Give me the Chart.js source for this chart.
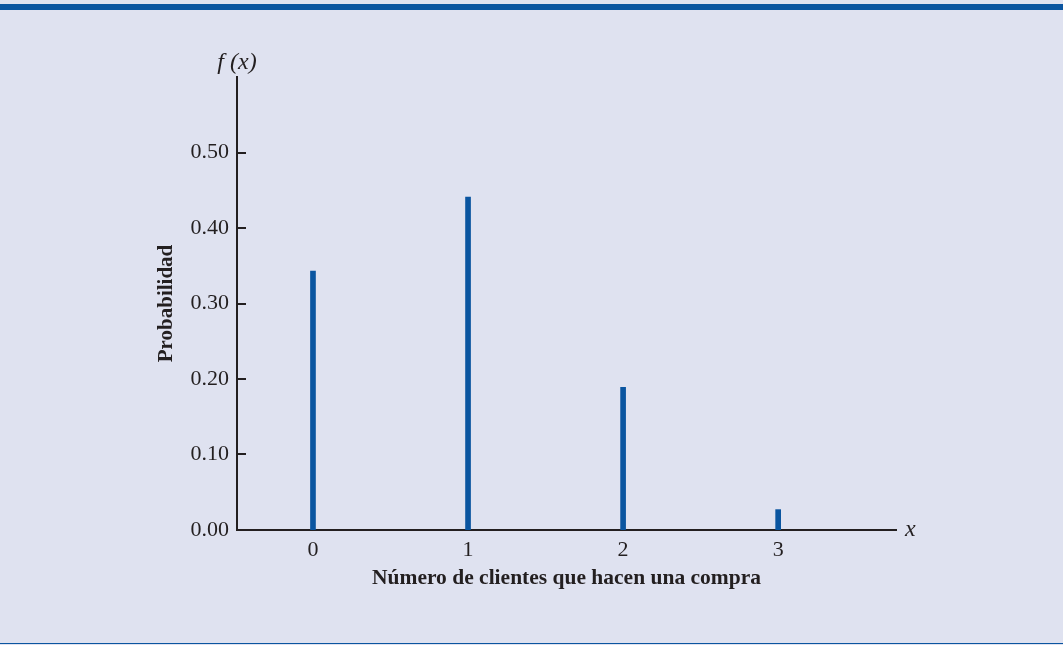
<!DOCTYPE html>
<html>
<head>
<meta charset="utf-8">
<script src="https://cdn.jsdelivr.net/npm/chart.js@4"></script>
<style>
    html, body { margin: 0; padding: 0; background: #dfe2f0; }
    #wrap { position: relative; width: 1063px; height: 645px; overflow: hidden; background: #dfe2f0; }
    #topband { position: absolute; left: 0; top: 4px; width: 1063px; height: 6px; background: #0a55a0; }
    #bottomline { position: absolute; left: 0; top: 643px; width: 1063px; height: 1px; background: #0a55a0; }
    canvas { position: absolute; left: 0; top: 0; }
</style>
</head>
<body>
<div id="wrap">
    <div id="topband"></div>
    <canvas id="chart" width="1063" height="645"></canvas>
    <div id="bottomline"></div>
</div>
<script>
// Binomial probabilities shown in the figure
const xValues = [0, 1, 2, 3];
const probabilities = [0.343, 0.441, 0.189, 0.027];
const yTickValues = [0.0, 0.1, 0.2, 0.3, 0.4, 0.5];

const AXIS_COLOR = '#231f20';
const BAR_COLOR = '#0a55a0';
const SERIF = '"Liberation Serif", "Times New Roman", serif';

// Inward tick marks plus the f(x) and x axis names
const extrasPlugin = {
    id: 'extras',
    afterDraw(chart) {
        const ctx = chart.ctx;
        const area = chart.chartArea;
        const yScale = chart.scales.y;

        ctx.save();
        ctx.strokeStyle = AXIS_COLOR;
        ctx.lineWidth = 2;
        yTickValues.forEach(v => {
            if (v === 0) return;
            const py = Math.round(yScale.getPixelForValue(v));
            ctx.beginPath();
            ctx.moveTo(area.left, py);
            ctx.lineTo(area.left + 9, py);
            ctx.stroke();
        });

        ctx.fillStyle = AXIS_COLOR;
        ctx.font = 'italic 24px ' + SERIF;
        ctx.textBaseline = 'middle';
        ctx.textAlign = 'center';
        ctx.fillText('f (x)', area.left, area.top - 14);
        ctx.textAlign = 'left';
        ctx.fillText('x', area.right + 9, yScale.getPixelForValue(0));
        ctx.restore();
    }
};

const ctx = document.getElementById('chart').getContext('2d');

new Chart(ctx, {
    type: 'bar',
    data: {
        datasets: [{
            data: xValues.map((x, i) => ({ x: x, y: probabilities[i] })),
            backgroundColor: BAR_COLOR,
            barThickness: 5,
            borderWidth: 0
        }]
    },
    options: {
        responsive: false,
        animation: false,
        events: [],
        layout: {
            padding: { left: 0, top: 77, right: 167, bottom: 0 }
        },
        plugins: {
            legend: { display: false },
            tooltip: { enabled: false }
        },
        scales: {
            x: {
                type: 'linear',
                offset: false,
                bounds: 'data',
                min: -0.49,
                max: 3.76,
                afterFit: scale => { scale.height = 115; },
                afterBuildTicks: scale => {
                    scale.ticks = xValues.map(v => ({ value: v }));
                },
                grid: { display: false, drawTicks: false },
                border: { display: true, color: AXIS_COLOR, width: 2 },
                ticks: {
                    padding: 7,
                    color: AXIS_COLOR,
                    font: { family: SERIF, size: 22 },
                    callback: v => String(v)
                },
                title: {
                    display: true,
                    text: 'Número de clientes que hacen una compra',
                    color: AXIS_COLOR,
                    font: { family: SERIF, size: 21.5, weight: 'bold' },
                    padding: { top: 0, bottom: 54 }
                }
            },
            y: {
                min: 0,
                max: 0.6,
                afterFit: scale => { scale.width = 237; },
                afterBuildTicks: scale => {
                    scale.ticks = yTickValues.map(v => ({ value: v }));
                },
                grid: { display: false, drawTicks: false },
                border: { display: true, color: AXIS_COLOR, width: 2 },
                ticks: {
                    padding: 8,
                    color: AXIS_COLOR,
                    font: { family: SERIF, size: 22 },
                    callback: v => v.toFixed(2)
                },
                title: {
                    display: true,
                    text: 'Probabilidad',
                    color: AXIS_COLOR,
                    font: { family: SERIF, size: 21, weight: 'bold' },
                    padding: { top: 154, bottom: 0 }
                }
            }
        }
    },
    plugins: [extrasPlugin]
});
</script>
</body>
</html>
